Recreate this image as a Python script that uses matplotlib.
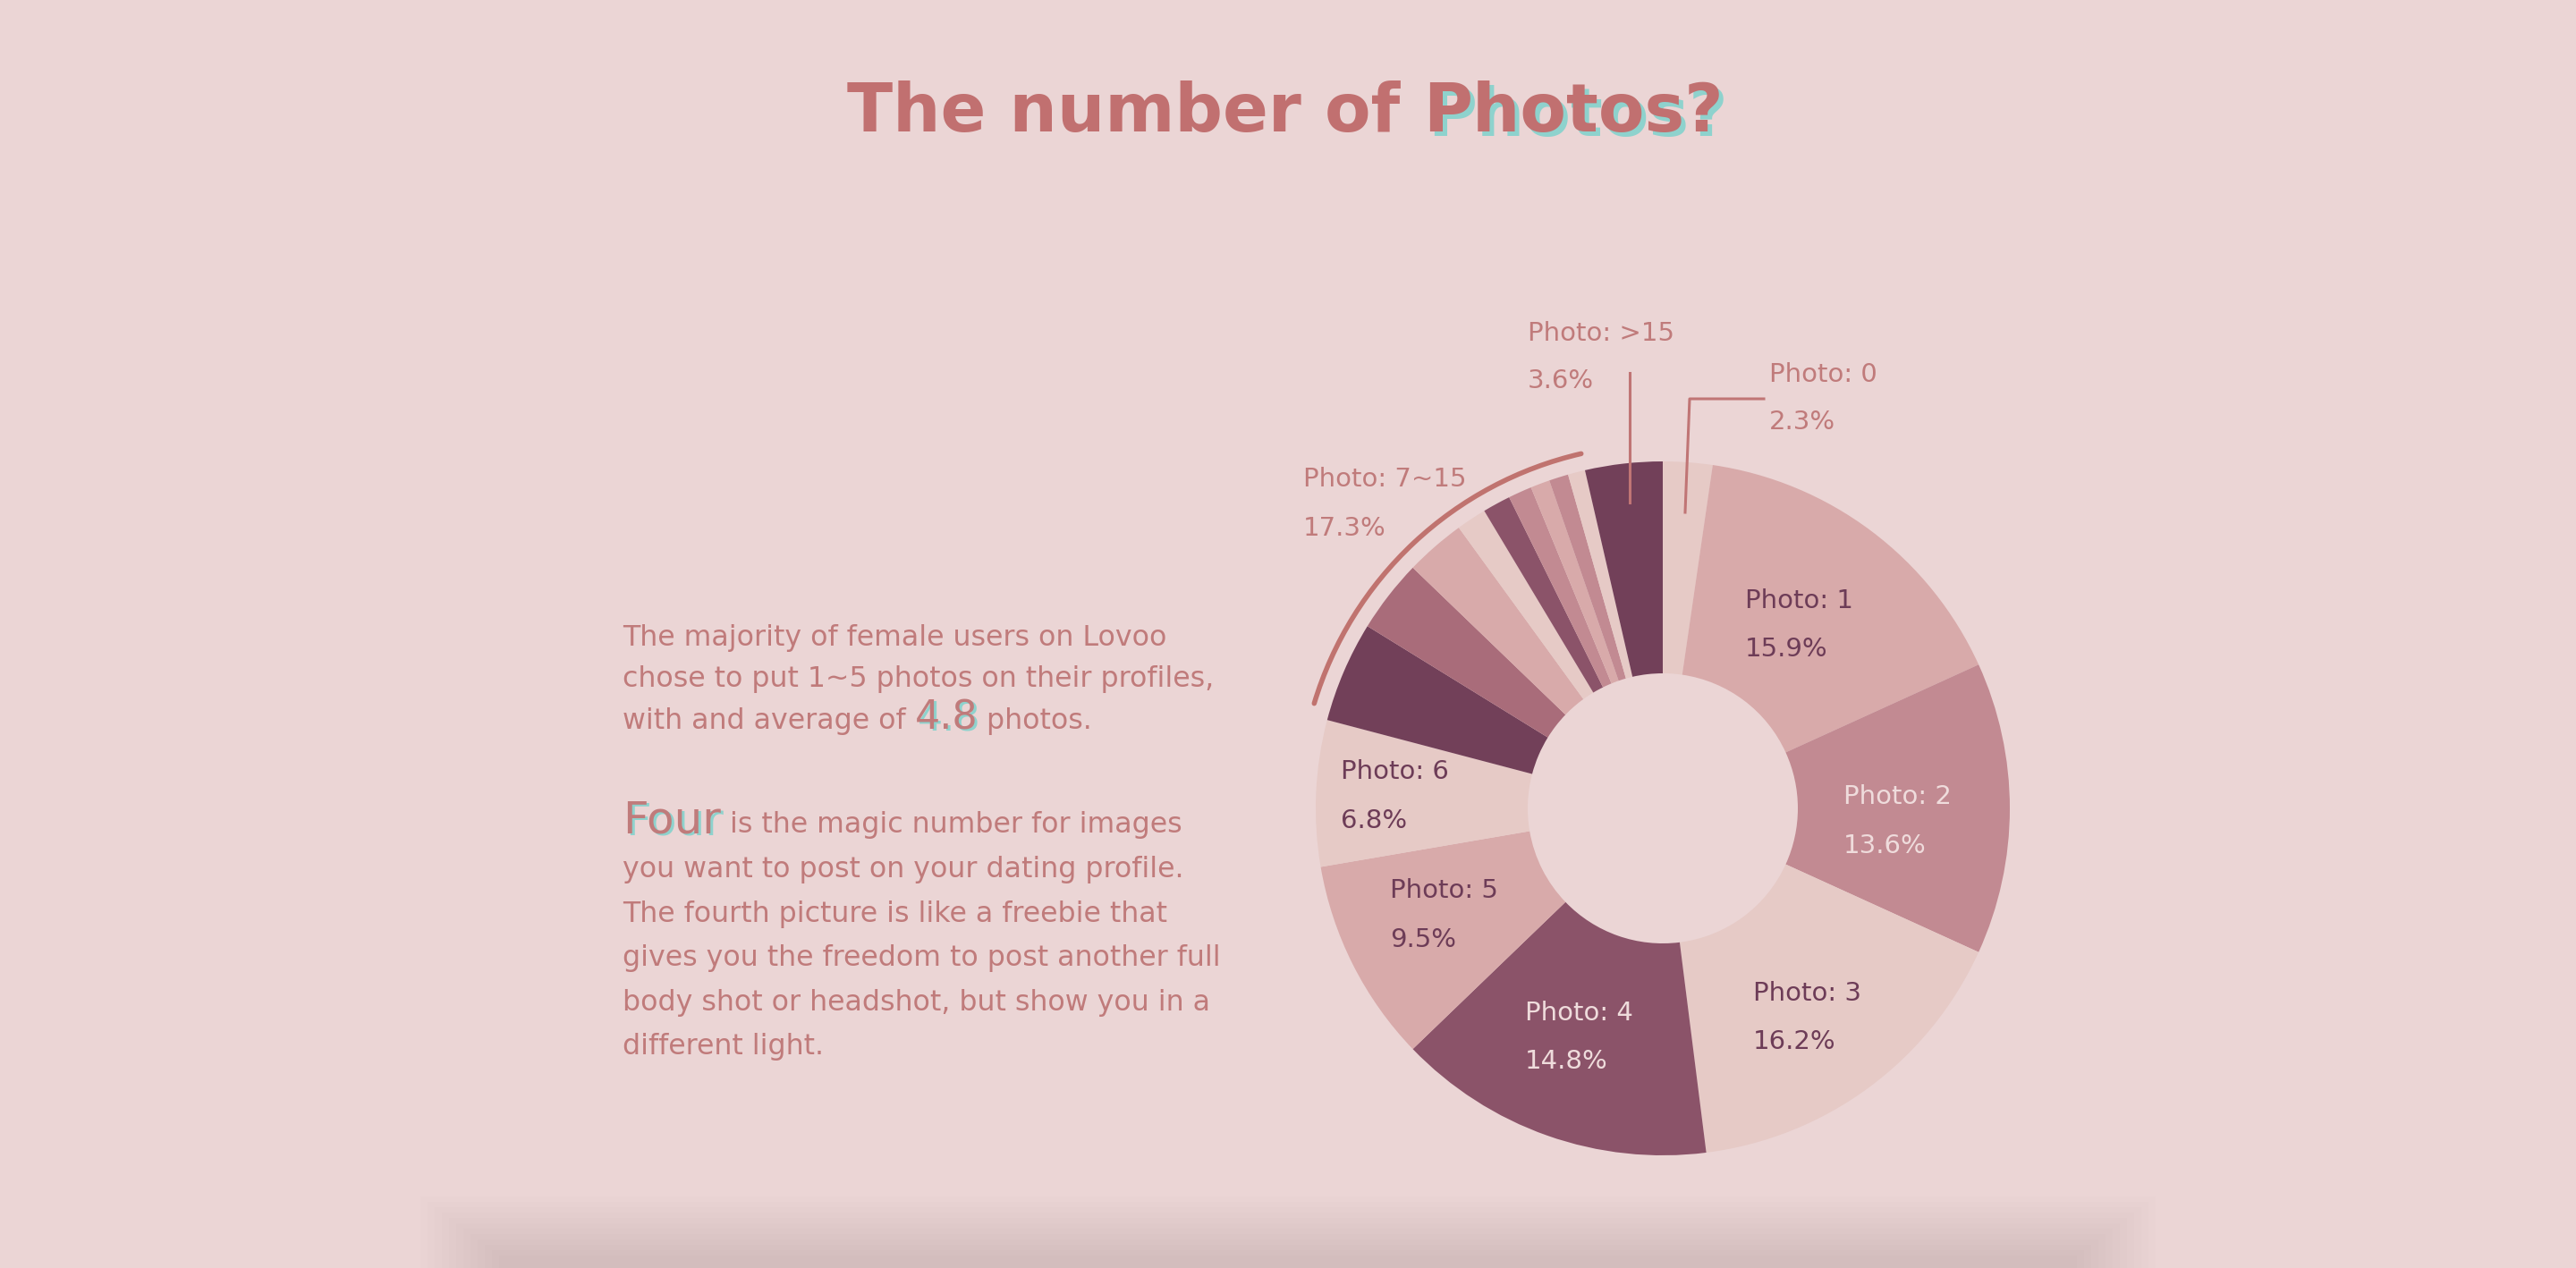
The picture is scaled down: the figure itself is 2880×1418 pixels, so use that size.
import matplotlib
matplotlib.use("Agg")
import matplotlib.pyplot as plt
from matplotlib.patches import Arc, Rectangle

# data -----------------------------------------------------------------
labels = ["Photo: 0", "Photo: 1", "Photo: 2", "Photo: 3", "Photo: 4",
          "Photo: 5", "Photo: 6", "Photo: 7~15", "Photo: >15"]
shares = [2.3, 15.9, 13.6, 16.2, 14.8, 9.5, 6.8, 17.3, 3.6]
# the 7~15 group is drawn as one slice per photo count
group_counts = ["7", "8", "9", "10", "11", "12", "13", "14", "15"]
group_shares = [4.7, 3.4, 2.8, 1.4, 1.3, 1.1, 0.9, 0.9, 0.8]

title = ("The number of ", "Photos?")
para1 = ["The majority of female users on Lovoo",
         "chose to put 1~5 photos on their profiles,"]
para1_last = ("with and average of ", "4.8", " photos.")
para2_first = ("Four", " is the magic number for images")
para2 = ["you want to post on your dating profile.",
         "The fourth picture is like a freebie that",
         "gives you the freedom to post another full",
         "body shot or headshot, but show you in a",
         "different light."]

# colours --------------------------------------------------------------
BG = "#ebd5d5"
ROSE = "#c17070"
TXT = "#c07b7b"
TEAL = "#8ed2cd"
PALE = "#e6cac6"
LIGHT = "#d8aaaa"
MAUVE = "#c28a92"
DUSTY = "#a96c7a"
PLUM = "#8b5369"
DARK = "#724059"
LBL_DARK = "#6d3c57"
LBL_LIGHT = "#efdcdc"

main_colors = [PALE, LIGHT, MAUVE, PALE, PLUM, LIGHT, PALE]
group_colors = [DARK, DUSTY, LIGHT, PALE, PLUM, MAUVE, LIGHT, MAUVE, PALE]
other_color = DARK

W, H = 2880, 1418
fig = plt.figure(figsize=(W / 100, H / 100), dpi=100, facecolor=BG)
ax = fig.add_axes([0, 0, 1, 1])
ax.set_facecolor(BG)

# donut geometry (pixels, y measured from top)
cx, cy = 1859, 904
R, r_in = 388, 151

values = shares[:7] + group_shares + shares[8:]
colors = main_colors + group_colors + [other_color]
ax.pie(values, colors=colors, startangle=90, counterclock=False,
       center=(cx, H - cy), radius=R,
       wedgeprops=dict(width=R - r_in, linewidth=0), frame=True)
ax.set_xlim(0, W)
ax.set_ylim(0, H)
ax.axis("off")

# bracket arc over the 7~15 group
start = sum(shares[:7]) / 100 * 360
end = sum(shares[:8]) / 100 * 360
ax.add_patch(Arc((cx, H - cy), 2 * 407, 2 * 407,
                 theta1=90 - end, theta2=90 - (start + 2),
                 color="#c0736f", lw=4, capstyle="round"))

# leader lines
ax.plot([1822, 1822], [H - 417, H - 562], color="#c07575", lw=2.2)
ax.plot([1884, 1889, 1972], [H - 573, H - 446, H - 446], color="#c07575", lw=2.2)

# slice labels: (x, name centre y, pct centre y, colour)
label_pos = {
    "Photo: 0": (1978, 419, 472, TXT),
    "Photo: 1": (1951, 672, 726, LBL_DARK),
    "Photo: 2": (2061, 891, 946, LBL_LIGHT),
    "Photo: 3": (1960, 1111, 1165, LBL_DARK),
    "Photo: 4": (1705, 1133, 1187, LBL_LIGHT),
    "Photo: 5": (1554, 996, 1051, LBL_DARK),
    "Photo: 6": (1499, 863, 918, LBL_DARK),
    "Photo: 7~15": (1457, 536, 591, TXT),
    "Photo: >15": (1708, 373, 426, TXT),
}
FONT = "DejaVu Sans"
for lab, val in zip(labels, shares):
    x, y1, y2, c = label_pos[lab]
    ax.text(x, H - y1, lab, fontsize=21, color=c, va="center", ha="left", family=FONT)
    ax.text(x, H - y2, f"{val}%", fontsize=21, color=c, va="center", ha="left", family=FONT)

renderer = fig.canvas.get_renderer()


def width_of(t):
    return t.get_window_extent(renderer).width


def shadow_text(x, y, s, size, color, weight="normal", off=4):
    ax.text(x + off, y - off, s, fontsize=size, color=TEAL, weight=weight,
            va="baseline", ha="left", family=FONT)
    return ax.text(x, y, s, fontsize=size, color=color, weight=weight,
                   va="baseline", ha="left", family=FONT)


# title
TS = 54
t1 = ax.text(0, 0, title[0], fontsize=TS, weight="bold", family=FONT)
t2 = ax.text(0, 0, title[1], fontsize=TS, weight="bold", family=FONT)
w1, w2 = width_of(t1), width_of(t2)
t1.remove()
t2.remove()
x0 = 1437 - (w1 + w2) / 2
ax.text(x0, H - 147, title[0], fontsize=TS, weight="bold", color=ROSE,
        va="baseline", ha="left", family=FONT)
shadow_text(x0 + w1, H - 147, title[1], TS, ROSE, weight="bold", off=5)

# body text
BX = 696
BODY = 22.8
base = [722, 768]
for line, y in zip(para1, base):
    ax.text(BX, H - y, line, fontsize=BODY, color=TXT, va="baseline", family=FONT)
a = ax.text(BX, H - 815, para1_last[0], fontsize=BODY, color=TXT, va="baseline", family=FONT)
xa = BX + width_of(a)
b = shadow_text(xa, H - 815, para1_last[1], 32, TXT, off=3)
ax.text(xa + width_of(b), H - 815, para1_last[2], fontsize=BODY, color=TXT,
        va="baseline", family=FONT)

f = shadow_text(BX, H - 931, para2_first[0], 36, TXT, off=3)
ax.text(BX + width_of(f), H - 931, para2_first[1], fontsize=BODY, color=TXT,
        va="baseline", family=FONT)
for i, line in enumerate(para2):
    ax.text(BX, H - (981 + 49.6 * i), line, fontsize=BODY, color=TXT,
            va="baseline", family=FONT)

# soft shadow of the next page section at the bottom
for k in range(12):
    ax.add_patch(Rectangle((470 + 8 * k, 0), 1940 - 16 * k, 80 - 6 * k,
                           color="#786060", alpha=0.012, lw=0))

fig.savefig("out.png", dpi=100, facecolor=BG)
